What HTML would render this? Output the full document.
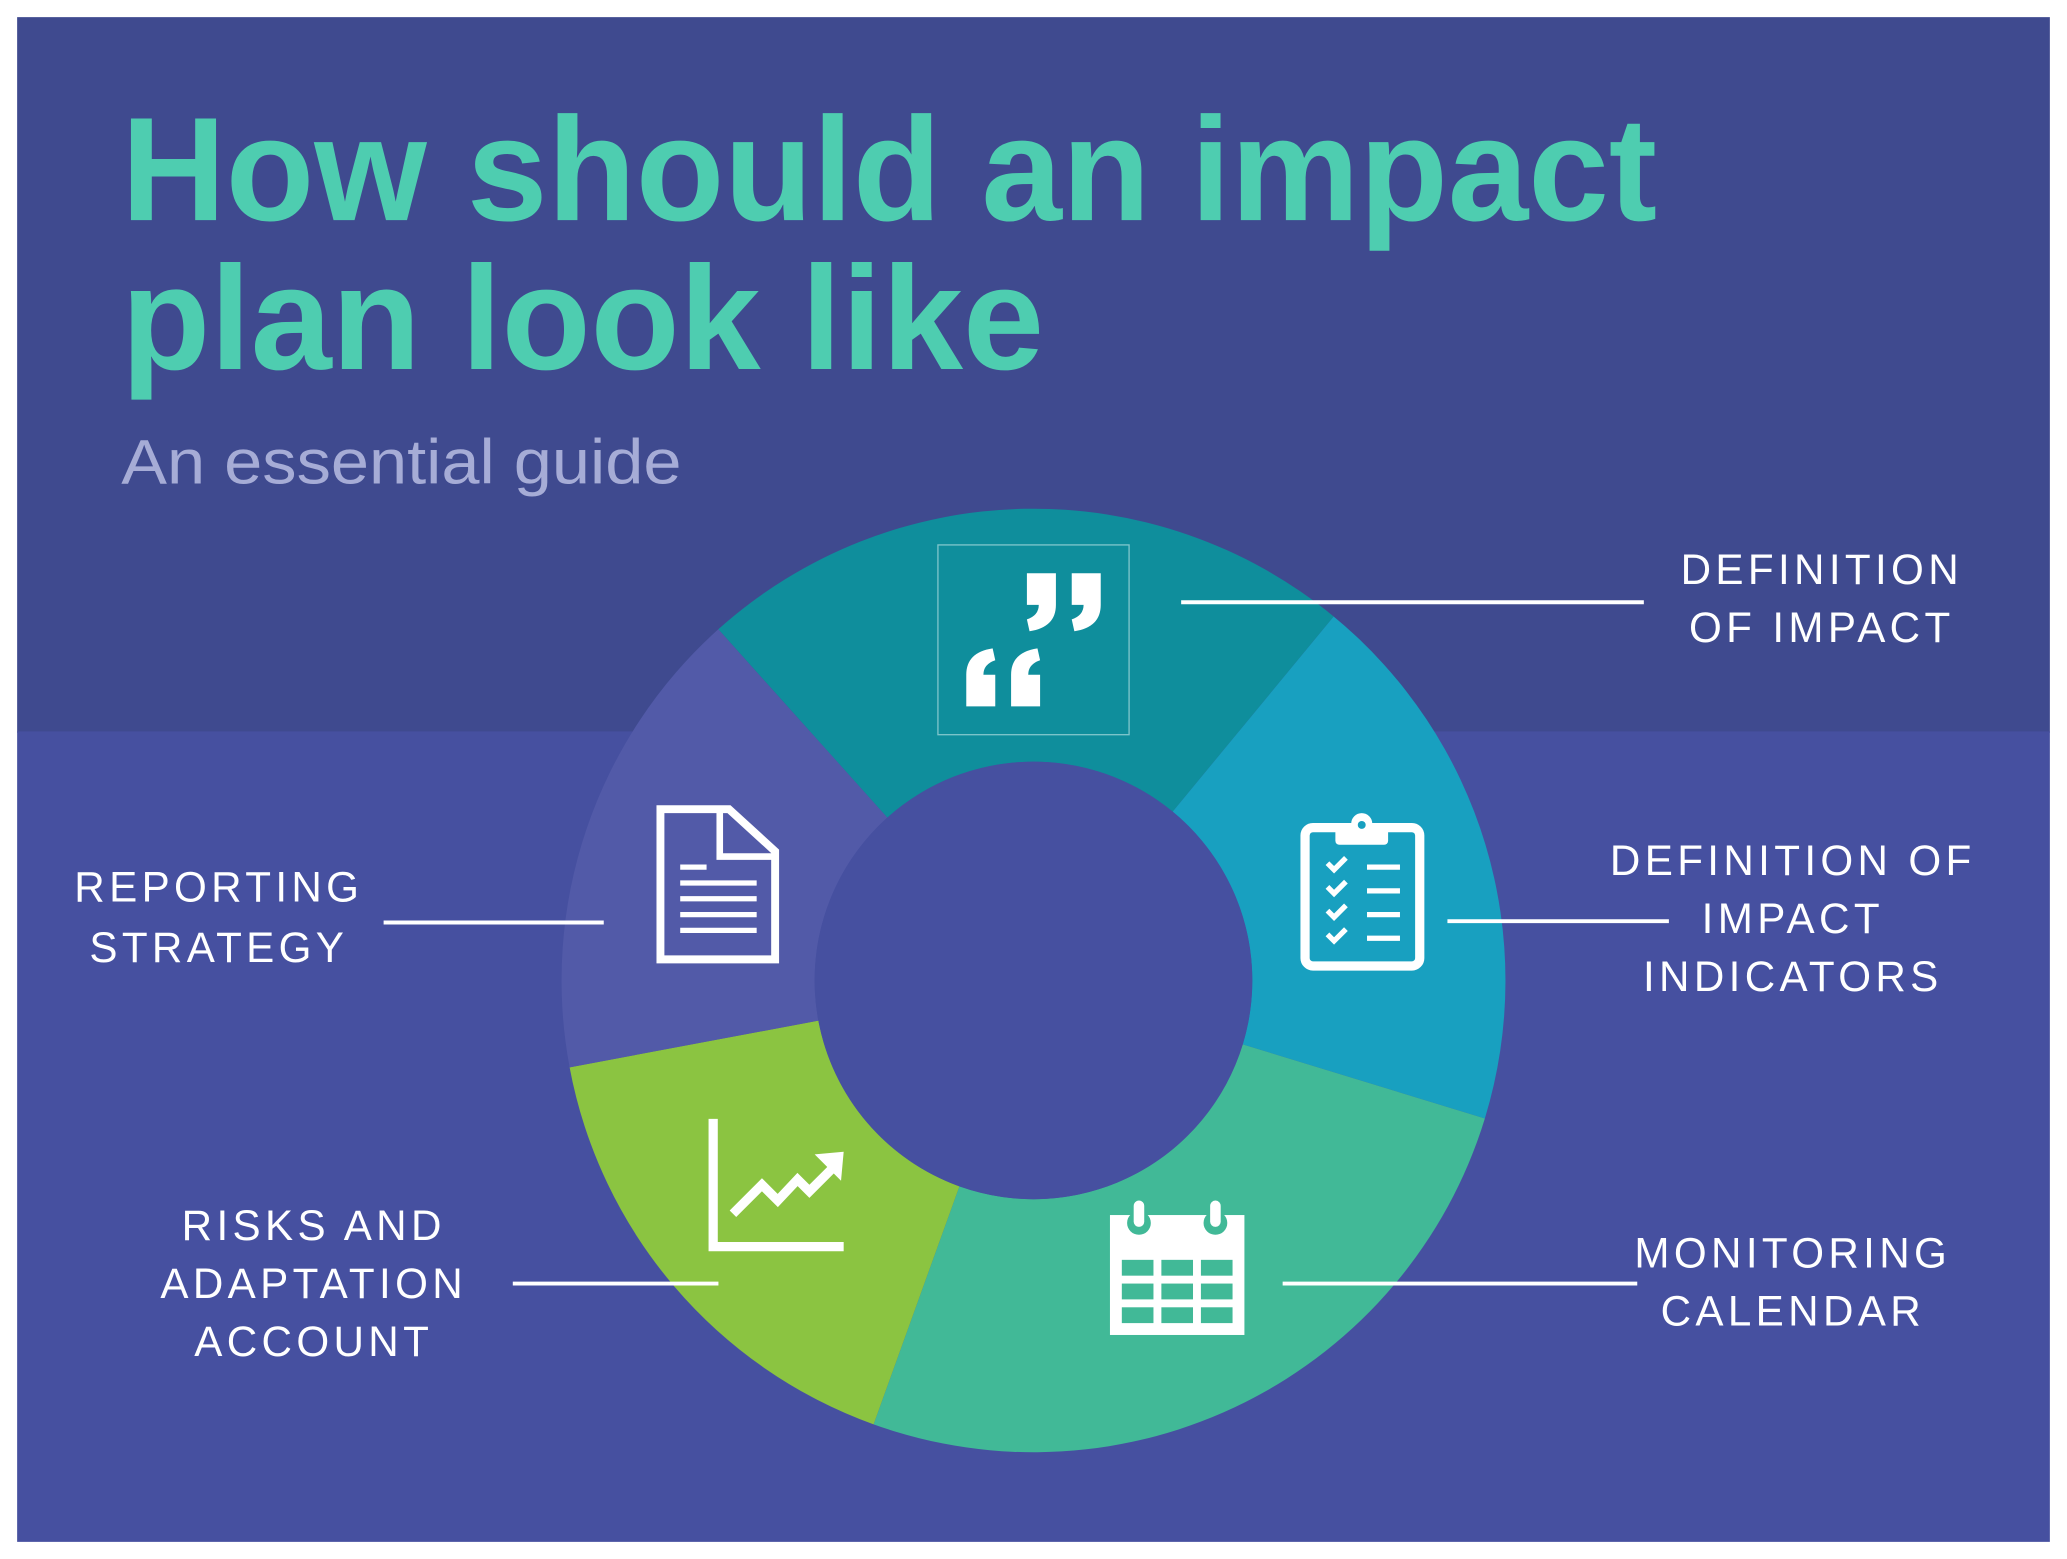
<!DOCTYPE html>
<html><head><meta charset="utf-8"><style>
html,body{margin:0;padding:0;background:#fff;}
svg{display:block;}
</style></head><body>
<svg width="2067" height="1559" viewBox="0 0 1568 1183" preserveAspectRatio="none" xmlns="http://www.w3.org/2000/svg">
<rect x="0" y="0" width="1568" height="1183" fill="#fff"/>
<rect x="13" y="13" width="1542" height="543" fill="#3f4a8f"/>
<rect x="13" y="555" width="1542" height="615" fill="#4650a0"/>
<g font-family="Liberation Sans, sans-serif">
<text x="92" y="167" font-size="112" font-weight="bold" fill="#4ecdb0" textLength="1165" lengthAdjust="spacingAndGlyphs">How should an impact</text>
<text x="92" y="280" font-size="112" font-weight="bold" fill="#4ecdb0" textLength="700" lengthAdjust="spacingAndGlyphs">plan look like</text>
<text x="92" y="367" font-size="48" fill="#a6acd6" textLength="425" lengthAdjust="spacingAndGlyphs">An essential guide</text>
</g>
<path d="M544.9,477.5 A358,358 0 0 1 1011.7,467.8 L889.6,615.9 A166,166 0 0 0 673.1,620.4 Z" fill="#0f8e9c"/>
<path d="M1011.7,467.8 A358,358 0 0 1 1126.4,848.7 L942.7,792.5 A166,166 0 0 0 889.6,615.9 Z" fill="#18a0c0"/>
<path d="M1126.4,848.7 A358,358 0 0 1 662.7,1080.8 L727.8,900.2 A166,166 0 0 0 942.7,792.5 Z" fill="#41b997"/>
<path d="M662.7,1080.8 A358,358 0 0 1 432.1,809.9 L620.8,774.5 A166,166 0 0 0 727.8,900.2 Z" fill="#8bc441"/>
<path d="M432.1,809.9 A358,358 0 0 1 544.9,477.5 L673.1,620.4 A166,166 0 0 0 620.8,774.5 Z" fill="#525aa8"/>
<circle cx="784" cy="744" r="166" fill="#4650a0"/>
<rect x="711.5" y="413.5" width="145" height="144" fill="none" stroke="#7fc6cc" stroke-width="1"/>
<g fill="#fff">
<path d="M779,435 h22 v24 q0,17 -20,20 l-2,-9 q9,-3 9,-11 h-9 z"/>
<path d="M813,435 h22 v24 q0,17 -20,20 l-2,-9 q9,-3 9,-11 h-9 z"/>
<path d="M733,536 h22 v-24 h-9 q0,-8 9,-11 l-2,-9 q-20,3 -20,20 z"/>
<path d="M767,536 h22 v-24 h-9 q0,-8 9,-11 l-2,-9 q-20,3 -20,20 z"/>
</g>
<rect x="990" y="628" width="87" height="105" rx="6" fill="none" stroke="#fff" stroke-width="7"/>
<rect x="1013" y="625" width="40" height="16" rx="3" fill="#fff"/>
<circle cx="1033" cy="625" r="8" fill="#fff"/><circle cx="1033" cy="626" r="3" fill="#18a0c0"/>
<g stroke="#fff" stroke-width="4" fill="none">
<path d="M1007,655 l5,5 l9,-9 M1007,673 l5,5 l9,-9 M1007,691 l5,5 l9,-9 M1007,709 l5,5 l9,-9"/>
<path d="M1037,658 h25 M1037,676 h25 M1037,694 h25 M1037,712 h25"/>
</g>
<path d="M501,614 H553 L588,646 V728 H501 Z" fill="none" stroke="#fff" stroke-width="6"/>
<path d="M546,614 V650 H588" fill="none" stroke="#fff" stroke-width="5"/>
<g stroke="#fff" stroke-width="4"><path d="M516,658 h20 M516,670 h58 M516,682 h58 M516,694 h58 M516,706 h58"/></g>
<path d="M541,849 V946 H640" fill="none" stroke="#fff" stroke-width="7"/>
<path d="M556,921 L578,899 L590,911 L605,895 L614,904 L632,886" fill="none" stroke="#fff" stroke-width="7"/>
<path d="M618,876 L640,874 L638,896 Z" fill="#fff"/>
<rect x="842" y="922" width="102" height="91" fill="#fff"/>
<g fill="#41b997">
<rect x="851" y="956" width="24" height="12"/><rect x="881" y="956" width="24" height="12"/><rect x="911" y="956" width="24" height="12"/>
<rect x="851" y="974" width="24" height="12"/><rect x="881" y="974" width="24" height="12"/><rect x="911" y="974" width="24" height="12"/>
<rect x="851" y="992" width="24" height="12"/><rect x="881" y="992" width="24" height="12"/><rect x="911" y="992" width="24" height="12"/>
<circle cx="864" cy="928" r="9"/><circle cx="922" cy="928" r="9"/>
</g>
<rect x="860" y="911" width="8" height="20" rx="4" fill="#fff"/><rect x="918" y="911" width="8" height="20" rx="4" fill="#fff"/>
<g stroke="#fff" stroke-width="3">
<line x1="896" y1="457" x2="1247" y2="457"/>
<line x1="1098" y1="699" x2="1266" y2="699"/>
<line x1="973" y1="974" x2="1242" y2="974"/>
<line x1="389" y1="974" x2="545" y2="974"/>
<line x1="291" y1="700" x2="458" y2="700"/>
</g>
<g font-family="Liberation Sans, sans-serif" font-size="32" fill="#fff" letter-spacing="3.3" text-anchor="middle">
<text x="1382" y="443">DEFINITION</text>
<text x="1382" y="487">OF IMPACT</text>
<text x="1360" y="664">DEFINITION OF</text>
<text x="1360" y="708">IMPACT</text>
<text x="1360" y="752">INDICATORS</text>
<text x="1360" y="962">MONITORING</text>
<text x="1360" y="1006">CALENDAR</text>
<text x="238" y="941">RISKS AND</text>
<text x="238" y="985">ADAPTATION</text>
<text x="238" y="1029">ACCOUNT</text>
<text x="166" y="684">REPORTING</text>
<text x="166" y="730">STRATEGY</text>
</g>
</svg>
</body></html>
